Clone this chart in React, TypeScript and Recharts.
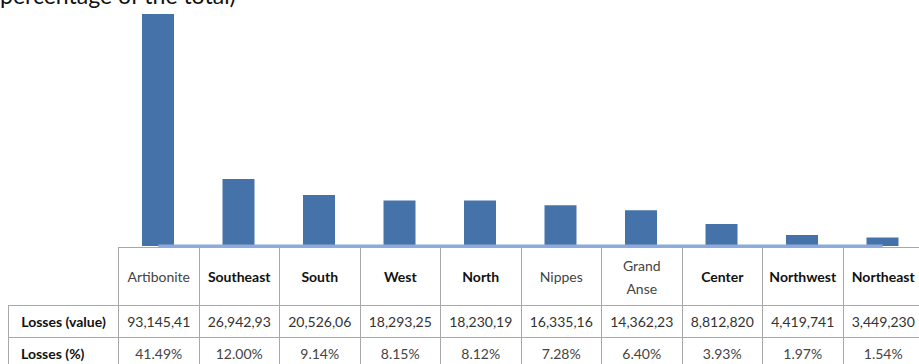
import React from "react";
import { BarChart, Bar, XAxis, YAxis, ReferenceLine } from "recharts";

// values
const regions = [
  "Artibonite",
  "Southeast",
  "South",
  "West",
  "North",
  "Nippes",
  "Grand Anse",
  "Center",
  "Northwest",
  "Northeast",
];
const lossValues = [
  "93,145,41",
  "26,942,93",
  "20,526,06",
  "18,293,25",
  "18,230,19",
  "16,335,16",
  "14,362,23",
  "8,812,820",
  "4,419,741",
  "3,449,230",
];
const lossPercent = [41.49, 12.0, 9.14, 8.15, 8.12, 7.28, 6.4, 3.93, 1.97, 1.54];
const boldHeader = [false, true, true, true, true, false, false, true, true, true];

const data = regions.map((name, i) => ({ name, pct: lossPercent[i] }));

const gridColor = "#a8a8a8";
const font = "Lato, 'Open Sans', sans-serif";

const cell: React.CSSProperties = {
  border: `1px solid ${gridColor}`,
  textAlign: "center",
  padding: 0,
  fontSize: 14,
  color: "#333",
};

export default function App() {
  return (
    <div
      style={{
        position: "absolute",
        left: 0,
        top: 0,
        width: 919,
        height: 364,
        overflow: "hidden",
        background: "#fff",
        fontFamily: font,
      }}>
      {/* title, cut off by the top of the picture as in the scan */}
      <div
        style={{
          position: "absolute",
          left: 0,
          top: -16,
          fontSize: 23,
          lineHeight: "23px",
          color: "#111",
          whiteSpace: "nowrap",
        }}>
        percentage of the total)
      </div>

      <div style={{ position: "absolute", left: 0, top: 0 }}>
        <BarChart
          width={923}
          height={247}
          data={data}
          margin={{ top: 14, right: 0, left: 118, bottom: 1 }}>
          <XAxis dataKey='name' hide />
          <YAxis hide domain={[0, "dataMax"]} />
          <Bar dataKey='pct' fill='#4672aa' barSize={32} isAnimationActive={false} />
          <ReferenceLine
            segment={[
              { x: regions[0], y: 0 },
              { x: regions[regions.length - 1], y: 0 },
            ]}
            stroke='#8eaad8'
            strokeWidth={3}
          />
        </BarChart>
      </div>

      {/* data table */}
      <table
        style={{
          position: "absolute",
          left: 8,
          top: 247,
          borderCollapse: "collapse",
          tableLayout: "fixed",
          width: 915,
          fontFamily: font,
        }}>
        <colgroup>
          <col style={{ width: 110 }} />
          {regions.map((r) => (
            <col key={r} style={{ width: 80.5 }} />
          ))}
        </colgroup>
        <tbody>
          <tr style={{ height: 58 }}>
            <td
              style={{
                ...cell,
                borderTop: "none",
                borderLeft: "none",
              }}
            />
            {regions.map((r, i) => (
              <td
                key={r}
                style={{
                  ...cell,
                  fontWeight: boldHeader[i] ? 700 : 400,
                  color: boldHeader[i] ? "#111" : "#444",
                  lineHeight: "23px",
                  padding: "0 6px",
                }}>
                {r}
              </td>
            ))}
          </tr>
          <tr style={{ height: 32 }}>
            <td style={{ ...cell, fontWeight: 700, color: "#111" }}>
              Losses (value)
            </td>
            {lossValues.map((v, i) => (
              <td key={i} style={cell}>
                {v}
              </td>
            ))}
          </tr>
          <tr style={{ height: 32 }}>
            <td style={{ ...cell, fontWeight: 700, color: "#111", textAlign: "left", paddingLeft: 12 }}>
              Losses (%)
            </td>
            {lossPercent.map((p, i) => (
              <td key={i} style={{ ...cell, color: "#444" }}>
                {p.toFixed(2)}%
              </td>
            ))}
          </tr>
        </tbody>
      </table>
    </div>
  );
}
